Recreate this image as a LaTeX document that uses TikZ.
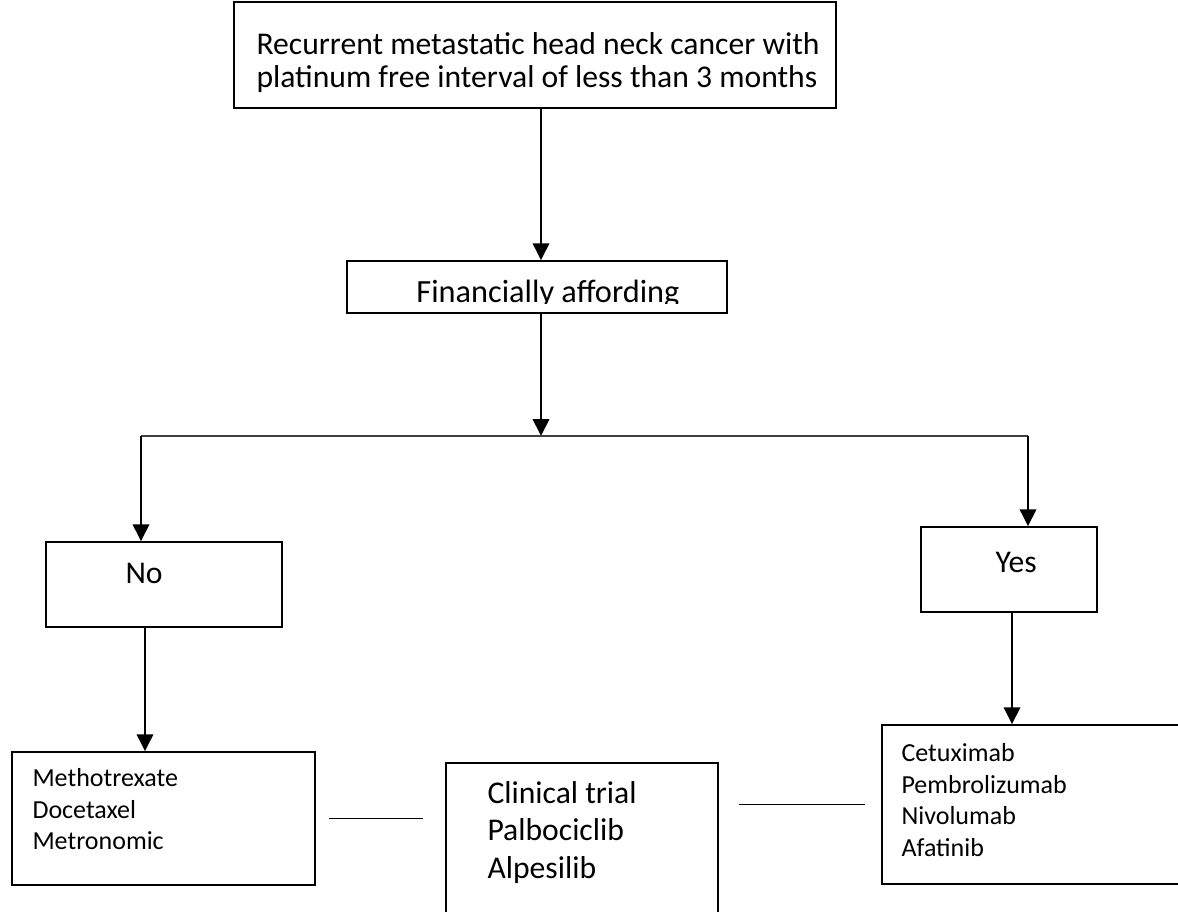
\documentclass[tikz,border=0pt]{standalone}
\usepackage{fontspec}
\setmainfont{Carlito}
\usetikzlibrary{arrows.meta, positioning, calc}

\begin{document}
\begin{tikzpicture}[
		box/.style={rectangle, draw, line width=1.1pt, inner sep=0pt},
		arr/.style={-{Triangle[width=11.5pt,length=12pt]}, line width=2pt},
		bigtxt/.style={inner sep=0pt, align=left, font=\fontsize{22.5}{23.5}\selectfont},
		listtxt/.style={inner sep=0pt, align=left, font=\fontsize{18.5}{22.5}\selectfont}
	]
			\useasboundingbox (0,0) rectangle (29.45,-22.775);
			\clip (0,0) rectangle (29.45,-22.775);
			\fill[white] (0,0) rectangle (29.45,-22.775);

			% boxes
			\node[box, minimum width=15.05cm, minimum height=2.65cm] (top) at (13.375,-1.375) {};
			\node[box, minimum width=9.5cm, minimum height=1.3cm] (fin) at (13.425,-7.175) {};
			\node[box, minimum width=5.9cm, minimum height=2.125cm] (no) at (4.1,-14.6125) {};
			\node[box, minimum width=4.4cm, minimum height=2.125cm] (yes) at (25.225,-14.2375) {};
			\node[box, minimum width=7.575cm, minimum height=3.325cm] (metho) at (4.0875,-20.4625) {};
			\node[box, minimum width=6.8cm, minimum height=4.175cm] (trial) at (14.55,-21.1625) {};
			\node[box, minimum width=7.95cm, minimum height=3.975cm] (antibody) at (26.025,-20.1125) {};

			% texts
			\node[bigtxt, below right=0.77cm and 0.575cm of top.north west] (toptxt) {Recurrent metastatic head neck cancer with\\platinum free interval of less than 3 months};
			\begin{scope}
				\clip (fin.north west) rectangle ([yshift=0.25cm]fin.south east);
				\node[bigtxt, font=\fontsize{23}{24}\selectfont, anchor=base] (fintxt) at ([xshift=0.275cm,yshift=0.275cm]fin.south) {Financially affording};
			\end{scope}
			\node[bigtxt, anchor=base west] (notxt) at ([xshift=2cm,yshift=1.1cm]no.south west) {No};
			\node[bigtxt, anchor=base west] (yestxt) at ([xshift=1.875cm,yshift=1cm]yes.south west) {Yes};
			\node[listtxt, below right=0.42cm and 0.525cm of metho.north west] (methotxt) {Methotrexate\\Docetaxel\\Metronomic};
			\node[bigtxt, font=\fontsize{22.5}{26.7}\selectfont, below right=0.47cm and 1.05cm of trial.north west] (trialtxt) {Clinical trial\\Palbociclib\\Alpesilib};
			\node[listtxt, below right=0.47cm and 0.5cm of antibody.north west] (antitxt) {Cetuximab\\Pembrolizumab\\Nivolumab\\Afatinib};

			% connectors
			\coordinate (split) at (13.525,-10.9);
			\coordinate (lft) at (3.525,-10.9);
			\coordinate (rgt) at (25.7,-10.9);
			\coordinate (noout) at ([xshift=-0.475cm]no.south);
			\coordinate (yesout) at ([xshift=0.075cm]yes.south);
			\draw[arr] (top.south -| split) -- (fin.north -| split);
			\draw[arr] (fin.south -| split) -- (split);
			\draw[line width=1.1pt, black!75] (lft) -- (rgt);
			\draw[arr] (lft) -- (no.north -| lft);
			\draw[arr] (rgt) -- (yes.north -| rgt);
			\draw[arr] (noout) -- (noout |- metho.north);
			\draw[arr] (yesout) -- (yesout |- antibody.north);
			\draw[line width=0.9pt] ([xshift=0.325cm]metho.east) -- ([xshift=-0.55cm]metho.east -| trial.west);
			\draw[line width=0.9pt] ([xshift=0.5cm]antibody.west -| trial.east) -- ([xshift=-0.4cm]antibody.west);
		\end{tikzpicture}
\end{document}
